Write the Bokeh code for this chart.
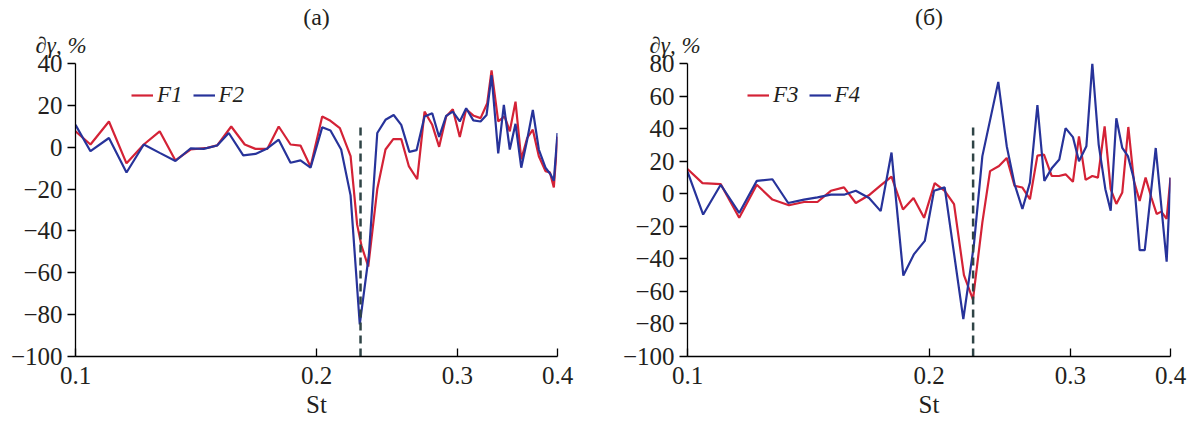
from bokeh.plotting import figure
from bokeh.layouts import row
from bokeh.models import Range1d, FixedTicker, PrintfTickFormatter, Title, Legend, LegendItem
from bokeh.embed import file_html
from bokeh.resources import INLINE

# ---------------- data ----------------
st_f1 = [0.1000, 0.1044, 0.1101, 0.1158, 0.1217, 0.1274, 0.1333, 0.1392, 0.1461, 0.1503,
         0.1565, 0.1627, 0.1678, 0.1736, 0.1794, 0.1856, 0.1910, 0.1966, 0.2033, 0.2082,
         0.2139, 0.2206, 0.2248, 0.2276, 0.2321, 0.2382, 0.2439, 0.2494, 0.2552, 0.2608,
         0.2672, 0.2729, 0.2790, 0.2846, 0.2904, 0.2960, 0.3020, 0.3076, 0.3144, 0.3206,
         0.3268, 0.3309, 0.3373, 0.3435, 0.3487, 0.3545, 0.3604, 0.3666, 0.3726, 0.3791,
         0.3864, 0.3913, 0.3958, 0.4000]
f1 = [7.6, 1.3, 12.3, -7.7, 1.3, 7.6, -6.3, -1.1, -0.3, 0.9,
      9.9, 1.3, -0.8, -0.8, 9.9, 1.3, 0.8, -9.3, 14.7, 12.6,
      9.1, -4.3, -37, -47, -57, -20, -1.1, 3.9, 3.9, -9,
      -15.3, 17, 10.7, 0.2, 14.7, 18.1, 4.9, 18.1, 15, 13.9,
      21, 36.7, 12.3, 14.7, 7.6, 21.8, -5.8, 4.4, 8.4, -4.3,
      -11.4, -12, -19.2, 5]

st_f2 = [0.1000, 0.1044, 0.1101, 0.1158, 0.1217, 0.1274, 0.1333, 0.1392, 0.1446, 0.1503,
         0.1554, 0.1620, 0.1678, 0.1736, 0.1794, 0.1856, 0.1910, 0.1966, 0.2033, 0.2082,
         0.2147, 0.2206, 0.2265, 0.2325, 0.2382, 0.2439, 0.2497, 0.2552, 0.2612, 0.2667,
         0.2729, 0.2790, 0.2846, 0.2904, 0.2960, 0.3020, 0.3076, 0.3140, 0.3206, 0.3262,
         0.3309, 0.3373, 0.3428, 0.3487, 0.3545, 0.3604, 0.3666, 0.3726, 0.3791, 0.3864,
         0.3920, 0.3958, 0.4000]
f2 = [10.7, -1.9, 4.4, -12.1, 1.3, -2.7, -6.6, -0.6, -0.8, 0.8,
      6.8, -3.9, -3.2, -0.6, 3.6, -7.4, -6.3, -9.8, 9.5, 8,
      -1.1, -23, -84.7, -51.5, 6.8, 13.1, 15.4, 10.7, -2.2, -1.4,
      14.7, 16.2, 4.9, 15, 17, 12.3, 18.6, 12.8, 12.3, 15.4,
      34.4, -3, 20.2, -1.1, 11.2, -9.8, 3.6, 17.8, -1.1, -9.8,
      -12.9, -16, 6.8]

st_f3 = [0.1000, 0.1044, 0.1100, 0.1160, 0.1220, 0.1276, 0.1338, 0.1397, 0.1452, 0.1509,
         0.1567, 0.1621, 0.1687, 0.1741, 0.1796, 0.1856, 0.1913, 0.1972, 0.2033, 0.2092,
         0.2149, 0.2211, 0.2269, 0.2331, 0.2383, 0.2445, 0.2500, 0.2557, 0.2615, 0.2672,
         0.2730, 0.2782, 0.2844, 0.2904, 0.2960, 0.3023, 0.3076, 0.3135, 0.3196, 0.3248,
         0.3311, 0.3369, 0.3424, 0.3483, 0.3544, 0.3601, 0.3661, 0.3724, 0.3786, 0.3844,
         0.3896, 0.3956, 0.4000]
f3 = [15.2, 6.5, 5.9, -14.8, 5.5, -3.6, -7.1, -5.1, -5.1, 1.8,
      3.9, -5.7, -0.6, 5.1, 10.5, -9.7, -2.6, -14.8, 6.5, 1.8,
      -6.4, -50, -65, -17.6, 13.9, 17, 22, 4.8, 3.8, -3.4,
      23.4, 24, 10.9, 10.9, 11.9, 7.3, 35.2, 8.5, 10.9, 9.9,
      41.4, 2.8, -6.3, 0.8, 41, 7.9, -4.4, 9.9, -2.3, -12.4,
      -11, -15.5, 9.9]

st_f4 = [0.1000, 0.1046, 0.1100, 0.1160, 0.1220, 0.1276, 0.1335, 0.1397, 0.1452, 0.1509,
         0.1567, 0.1621, 0.1684, 0.1741, 0.1796, 0.1858, 0.1916, 0.1976, 0.2029, 0.2092,
         0.2207, 0.2275, 0.2331, 0.2440, 0.2500, 0.2557, 0.2615, 0.2672, 0.2730, 0.2785,
         0.2848, 0.2907, 0.2960, 0.3023, 0.3076, 0.3142, 0.3196, 0.3255, 0.3318, 0.3369,
         0.3424, 0.3483, 0.3540, 0.3601, 0.3661, 0.3715, 0.3834, 0.3956, 0.4000]
f4 = [13.6, -12.8, 5.5, -11.8, 7.9, 8.9, -5.7, -3.6, -2.2, -0.6,
      -0.6, 1.8, -2.6, -10.7, 25.3, -50.3, -37.1, -29, 1.8, 3.9,
      -77, -31.6, 23.1, 68.7, 29.2, 5.8, -9.4, 6.8, 54.5, 7.9,
      16, 21, 40.3, 34.8, 20, 29.2, 80, 30.2, 2.8, -10.4,
      46.4, 28.1, 23.1, 8.9, -34.6, -34.6, 28.1, -41.8, 9.9]

st_marker = 0.227          # dashed vertical line position
marker_top_a = 11          # top of dashed line, panel (a)
marker_top_b = 43          # top of dashed line, panel (б)

x_ticks = [0.1, 0.2, 0.3, 0.4]
y_ticks_a = [40, 20, 0, -20, -40, -60, -80, -100]
y_ticks_b = [80, 60, 40, 20, 0, -20, -40, -60, -80, -100]

RED = "#d42236"
BLUE = "#27339a"
DASH = "#2f4446"
FONT = "Liberation Serif"
TXT = "#231f20"

H = 420
TOP = 63
BOTTOM = H - 359


def make_panel(title, xs1, ys1, xs2, ys2, names, y_lo, y_hi, yticks, mtop,
               width, left, right, leg_x, ylab_off):
    p = figure(width=width, height=H, x_axis_type="log",
               x_range=Range1d(0.1, 0.4), y_range=Range1d(y_lo, y_hi),
               output_backend="svg", toolbar_location=None,
               min_border_left=left, min_border_right=right,
               min_border_top=TOP, min_border_bottom=BOTTOM)
    p.outline_line_color = None
    p.xgrid.visible = False
    p.ygrid.visible = False
    p.background_fill_color = "white"
    p.border_fill_color = "white"

    # panel caption (outer)
    p.title.text = title
    p.title.align = "center"
    p.title.text_font = FONT
    p.title.text_font_size = "24px"
    p.title.text_font_style = "normal"
    p.title.text_color = TXT
    p.title.standoff = 0

    # quantity label above the y axis (nearest to the frame)
    ylab = Title(text="\u2202\u03b3, %", align="left", offset=ylab_off,
                 vertical_align="top",
                 text_font=FONT, text_font_size="23px", text_font_style="italic",
                 text_color=TXT, standoff=7)
    p.add_layout(ylab, "above")

    xa = p.xaxis[0]
    xa.ticker = FixedTicker(ticks=x_ticks, minor_ticks=[])
    xa.formatter = PrintfTickFormatter(format="%.1f")
    xa.major_tick_in = 8
    xa.major_tick_out = 0
    xa.minor_tick_line_color = None
    xa.axis_label = "St"
    xa.axis_label_text_font = FONT
    xa.axis_label_text_font_style = "normal"
    xa.axis_label_text_font_size = "25px"
    xa.axis_label_text_color = TXT
    xa.axis_label_standoff = 4
    xa.major_label_text_font = FONT
    xa.major_label_text_font_size = "25px"
    xa.major_label_text_color = TXT
    xa.major_label_standoff = 10
    xa.axis_line_width = 1.3
    xa.major_tick_line_width = 1.3

    ya = p.yaxis[0]
    ya.ticker = FixedTicker(ticks=yticks, minor_ticks=[])
    ya.major_label_overrides = {t: (("\u2212" + str(abs(t))) if t < 0 else str(t)) for t in yticks}
    ya.major_tick_in = 0
    ya.major_tick_out = 8
    ya.minor_tick_line_color = None
    ya.major_label_text_font = FONT
    ya.major_label_text_font_size = "25px"
    ya.major_label_text_color = TXT
    ya.major_label_standoff = 5
    ya.axis_line_width = 1.3
    ya.major_tick_line_width = 1.3

    r1 = p.line(xs1, ys1, line_color=RED, line_width=2.2)
    r2 = p.line(xs2, ys2, line_color=BLUE, line_width=2.2)
    p.segment(x0=[st_marker], y0=[y_lo], x1=[st_marker], y1=[mtop],
              line_color=DASH, line_width=2.5, line_dash="8 5")

    leg = Legend(items=[LegendItem(label=names[0], renderers=[r1]),
                        LegendItem(label=names[1], renderers=[r2])],
                 orientation="horizontal", location=(leg_x, 248),
                 border_line_color=None, background_fill_alpha=0,
                 padding=0, margin=0, spacing=10, label_standoff=4,
                 glyph_width=22, glyph_height=20,
                 label_text_font=FONT, label_text_font_style="italic",
                 label_text_font_size="23px", label_text_color=TXT)
    p.add_layout(leg)
    return p


pa = make_panel("(a)", st_f1, f1, st_f2, f2, ["F1", "F2"], -100, 40, y_ticks_a,
                marker_top_a, 598, 75, 41, 56, -40)
pb = make_panel("(\u0431)", st_f3, f3, st_f4, f4, ["F3", "F4"], -100, 80, y_ticks_b,
                marker_top_b, 592, 89, 20, 60, -38)

layout = row(pa, pb)
open("out.html", "w").write(file_html(layout, INLINE))
